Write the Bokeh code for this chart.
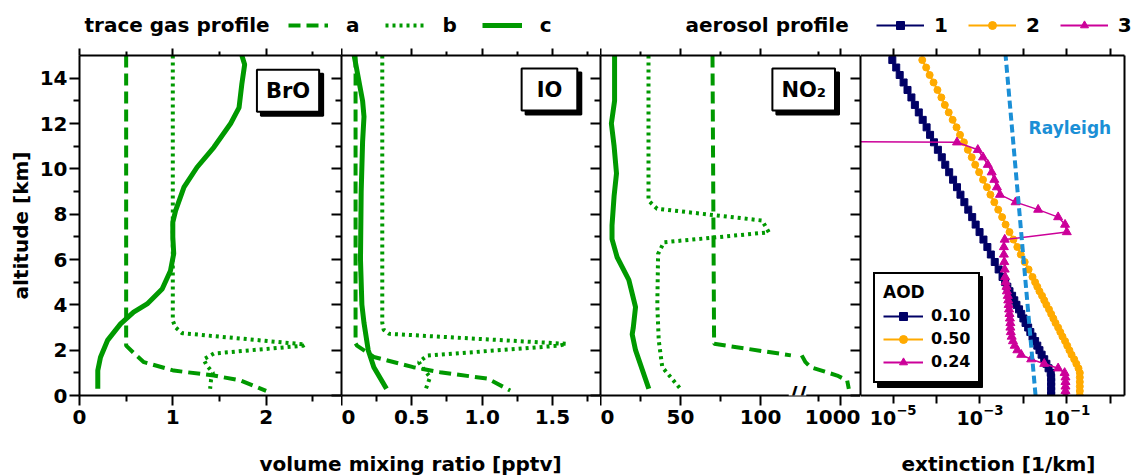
from bokeh.plotting import figure
from bokeh.models import (Range1d, LinearAxis, LogAxis, FixedTicker, CustomJSTickFormatter,
                          Label, Legend, LegendItem, BoxAnnotation)
from bokeh.layouts import row, column
from bokeh.embed import file_html
from bokeh.resources import INLINE
from bokeh.core.properties import value

# ---------------- data ----------------
alt_ticks = [0, 2, 4, 6, 8, 10, 12, 14]
alt_minor = [1, 3, 5, 7, 9, 11, 13]
bro_ticks = [0, 1, 2]
bro_minor = [0.5, 1.5, 2.5]
io_ticks = [0, 0.5, 1.0, 1.5]
io_minor = [0.25, 0.75, 1.25, 1.75]
no2_ticks = [0, 50, 100]
no2_minor = [25, 75]
no2_hi_tick = 1000
no2_hi_minor = 500
ext_ticks = [1e-5, 1e-3, 1e-1]
ext_minor = [1e-4, 1e-2, 1.0]

# BrO (pptv)
bro_a_alt = [15, 2.2, 1.8, 1.47, 1.1, 0.88, 0.66, 0.2]
bro_a = [0.5, 0.5, 0.6, 0.69, 1.01, 1.44, 1.73, 2.0]
bro_b_alt = [15, 3.3, 3.0, 2.75, 2.25, 2.2, 1.85, 1.6, 1.35, 1.0, 0.7, 0.3]
bro_b = [1.0, 1.0, 1.03, 1.1, 2.42, 2.4, 1.44, 1.33, 1.36, 1.43, 1.41, 1.40]
bro_c_alt = [15, 14.6, 13.75, 12.7, 12.0, 10.95, 10.07, 9.19, 8.16, 7.65, 7.0, 6.26, 5.5,
             4.7, 4.04, 3.68, 3.16, 2.43, 1.69, 1.1, 0.3]
bro_c = [1.74, 1.77, 1.74, 1.71, 1.62, 1.44, 1.26, 1.12, 1.03, 1.0, 1.0, 1.01, 0.975,
         0.886, 0.725, 0.58, 0.44, 0.30, 0.225, 0.196, 0.196]

# IO (pptv)
io_a_alt = [15, 2.3, 2.2, 1.7, 1.25, 1.03, 0.74, 0.22]
io_a = [0.1, 0.1, 0.11, 0.23, 0.51, 0.70, 1.04, 1.2]
io_b_alt = [15, 3.2, 2.9, 2.72, 2.28, 2.2, 1.76, 1.47, 1.2, 0.81, 0.29]
io_b = [0.29, 0.29, 0.30, 0.34, 1.6, 1.55, 0.61, 0.55, 0.58, 0.63, 0.6]
io_c_alt = [15, 14, 13, 12.3, 11.2, 9, 6, 4, 3.2, 2.0, 1.25, 0.3]
io_c = [0.09, 0.12, 0.15, 0.16, 0.15, 0.14, 0.135, 0.145, 0.16, 0.19, 0.23, 0.32]

# NO2 (pptv)
no2_a_alt = [15, 2.28, 1.77, 1.47, 1.25, 0.88, 0.66, 0.29]
no2_a = [70, 71, 119, 205, 318, 925, 1152, 1189]
no2_b_alt = [15, 8.6, 8.24, 7.72, 7.2, 6.76, 6.25, 4.0, 2.43, 1.25, 0.29]
no2_b = [30, 30, 35.4, 101, 105.2, 39.6, 36, 35.5, 36.4, 38.6, 50]
no2_c_alt = [15, 13, 12, 11, 9.8, 8.8, 7.5, 6.9, 6.1, 5.1, 3.9, 3.0, 2.7, 2.0, 0.3]
no2_c = [8.8, 8.8, 6.8, 8.5, 10, 8.5, 7.2, 7.2, 10.4, 17.7, 21.9, 20.5, 19.8, 21.9, 30.2]

# aerosol extinction (log10 of 1/km)
aer_alt = [14.8, 14.47, 14.14, 13.81, 13.48, 13.15, 12.82, 12.49, 12.16, 11.83, 11.5, 11.17,
           10.84, 10.51, 10.18, 9.85, 9.52, 9.19, 8.86, 8.53, 8.2, 7.87, 7.54, 7.21, 6.88,
           6.55, 6.22, 5.89, 5.56, 5.23, 5.0, 4.8, 4.6, 4.4, 4.2, 4.0, 3.8, 3.6, 3.4, 3.2,
           3.0, 2.8, 2.6, 2.4, 2.2, 2.0, 1.8, 1.6, 1.4, 1.2, 1.0, 0.8, 0.6, 0.4, 0.2, 0.0]
ext1_log = [-5.02, -4.93, -4.85, -4.76, -4.67, -4.58, -4.50, -4.41, -4.32, -4.23, -4.15, -4.06,
            -3.97, -3.88, -3.80, -3.71, -3.62, -3.53, -3.45, -3.36, -3.27, -3.18, -3.10, -3.01,
            -2.92, -2.83, -2.75, -2.66, -2.57, -2.48, -2.42, -2.37, -2.32, -2.26, -2.21, -2.16,
            -2.10, -2.05, -2.00, -1.95, -1.89, -1.84, -1.79, -1.73, -1.68, -1.63, -1.58, -1.52,
            -1.47, -1.42, -1.37, -1.36, -1.36, -1.36, -1.36, -1.36]
ext2_log = [-4.33, -4.24, -4.16, -4.07, -3.98, -3.89, -3.81, -3.72, -3.63, -3.54, -3.46, -3.37,
            -3.28, -3.19, -3.11, -3.02, -2.93, -2.84, -2.76, -2.67, -2.58, -2.49, -2.41, -2.32,
            -2.23, -2.14, -2.06, -1.97, -1.88, -1.79, -1.73, -1.68, -1.63, -1.57, -1.52, -1.47,
            -1.41, -1.36, -1.31, -1.26, -1.20, -1.15, -1.10, -1.04, -0.99, -0.94, -0.89, -0.83,
            -0.78, -0.73, -0.70, -0.70, -0.70, -0.70, -0.70, -0.70]
ext3_log = [-30, -30, -30, -30, -30, -30, -30, -30, -30, -30, -30, -3.53,
            -3.05, -2.93, -2.82, -2.73, -2.67, -2.61, -2.54, -2.18, -1.66, -1.20, -1.04, -1.00,
            -2.43, -2.45, -2.45, -2.44, -2.43, -2.42, -2.41, -2.39, -2.38, -2.36, -2.35, -2.34,
            -2.33, -2.32, -2.31, -2.30, -2.30, -2.29, -2.27, -2.24, -2.20, -2.14, -2.05, -1.82,
            -1.52, -1.20, -1.05, -1.03, -1.03, -1.03, -1.03, -1.03]
ray_alt = [0, 15]
ray_log = [-1.72, -2.41]
aod_labels = ["0.10", "0.50", "0.24"]

# ---------------- style ----------------
FONT = "DejaVu Sans"
GREEN = "#009900"
NAVY = "#000066"
ORANGE = "#ffaa00"
MAGENTA = "#cc0099"
BLUE = "#1b8fd6"
DASH_A = "12 6"
DOT_B = "3 4"
NAN = [float("nan")]

FRAME_H = 340
TOP_B, BOT_B = 10, 52
TOP_H = 45
BOT_H = 476 - TOP_H - TOP_B - FRAME_H - BOT_B


def make_fig(xr, fw, left, right, x_axis_type="linear"):
    p = figure(frame_width=fw, frame_height=FRAME_H, x_range=xr, y_range=Range1d(0, 15),
               x_axis_type=x_axis_type, x_axis_location=None, y_axis_location=None,
               toolbar_location=None, output_backend="svg",
               min_border_left=left, min_border_right=right,
               min_border_top=TOP_B, min_border_bottom=BOT_B)
    p.outline_line_color = None
    p.xgrid.visible = False
    p.ygrid.visible = False
    p.background_fill_color = "white"
    p.border_fill_color = "white"
    return p


def style_axis(ax, out=0, mout=0, tin=0, min_=0, labels=False, size="20px", standoff=3):
    ax.axis_line_width = 2
    ax.axis_line_color = "black"
    ax.major_tick_line_width = 2
    ax.minor_tick_line_width = 2
    ax.major_tick_line_color = "black"
    ax.minor_tick_line_color = "black"
    ax.major_tick_out = out
    ax.major_tick_in = tin
    ax.minor_tick_out = mout
    ax.minor_tick_in = min_
    if labels:
        ax.major_label_text_font = FONT
        ax.major_label_text_font_style = "bold"
        ax.major_label_text_font_size = size
        ax.major_label_text_color = "black"
        ax.major_label_standoff = standoff
    else:
        ax.major_label_text_font_size = "1px"
        ax.major_label_text_color = None
        ax.major_label_standoff = 0
    return ax


def line_only(p, side):
    ax = LinearAxis(ticker=FixedTicker(ticks=[]))
    style_axis(ax)
    ax.major_tick_line_color = None
    ax.minor_tick_line_color = None
    p.add_layout(ax, side)


def y_ticks_in(p):
    ax = LinearAxis(ticker=FixedTicker(ticks=alt_ticks, minor_ticks=alt_minor))
    style_axis(ax, tin=10, min_=6)
    p.add_layout(ax, "right")


def x_axes(p, ticks, minor, fmt_code, log=False):
    top = LinearAxis(ticker=FixedTicker(ticks=ticks, minor_ticks=minor))
    style_axis(top, out=7, mout=7 if log else 4)
    p.add_layout(top, "above")
    kw = {}
    if fmt_code is not None:
        kw["formatter"] = CustomJSTickFormatter(code=fmt_code)
    bcls = LogAxis if log else LinearAxis
    bot = bcls(ticker=FixedTicker(ticks=ticks, minor_ticks=minor), **kw)
    style_axis(bot, out=8 if log else 10, mout=8 if log else 6, labels=True,
               size="19px" if log else "20px", standoff=0 if log else 4)
    p.add_layout(bot, "below")


def panel_label(p, x, y, text, pad=9):
    common = dict(x=x, y=y, text=text, text_align="center", text_baseline="middle",
                  text_font=FONT, text_font_style="bold", text_font_size="21px", padding=pad,
                  border_line_width=2, border_line_color="black")
    p.add_layout(Label(x_offset=4, y_offset=-4, text_color="black",
                       background_fill_color="black", **common))
    p.add_layout(Label(text_color="black", background_fill_color="white", **common))


def gas_lines(p, a, b, c, **kw):
    p.line(a[0], a[1], line_color=GREEN, line_width=4, line_dash=DASH_A, **kw)
    p.line(b[0], b[1], line_color=GREEN, line_width=4, line_dash=DOT_B, **kw)
    p.line(c[0], c[1], line_color=GREEN, line_width=5, **kw)


def strip_label(p, x, y, text, align="left"):
    p.add_layout(Label(x=x, y=y, text=text, text_align=align, text_baseline="middle",
                       text_font=FONT, text_font_style="bold", text_font_size="20px",
                       text_color="black"))


# ---------------- BrO ----------------
f1 = make_fig(Range1d(0, 2.808), 262, 79, 0)
yl = LinearAxis(ticker=FixedTicker(ticks=alt_ticks, minor_ticks=alt_minor))
style_axis(yl, out=10, mout=6, labels=True, standoff=2)
yl.axis_label = "altitude [km]"
yl.axis_label_text_font = FONT
yl.axis_label_text_font_style = "bold"
yl.axis_label_text_font_size = "20px"
yl.axis_label_text_color = "black"
yl.axis_label_standoff = 4
f1.add_layout(yl, "left")
y_ticks_in(f1)
x_axes(f1, bro_ticks, bro_minor, "return tick.toFixed(0);")
gas_lines(f1, (bro_a, bro_a_alt), (bro_b, bro_b_alt), (bro_c, bro_c_alt))
panel_label(f1, 2.235, 13.45, "BrO")

# ---------------- IO ----------------
f2 = make_fig(Range1d(0, 1.842), 259, 0, 0)
line_only(f2, "left")
y_ticks_in(f2)
x_axes(f2, io_ticks, io_minor, "return tick == 0 ? '0' : tick.toFixed(1);")
gas_lines(f2, (io_a, io_a_alt), (io_b, io_b_alt), (io_c, io_c_alt))
panel_label(f2, 1.479, 13.5, "IO", pad=(15, 9))

# ---------------- NO2 (broken axis) ----------------
lo_end = 162.5
hi_start, hi_end = -4454.5, 1454.5
f3 = make_fig(Range1d(0, lo_end), 260, 0, 0)
f3.extra_x_ranges = {"hi": Range1d(hi_start, hi_end)}


def hi2lo(h):
    return lo_end * (h - hi_start) / (hi_end - hi_start)


pos1000 = round(hi2lo(no2_hi_tick), 3)
line_only(f3, "left")
y_ticks_in(f3)
x_axes(f3, no2_ticks + [pos1000], no2_minor + [round(hi2lo(no2_hi_minor), 3)],
       "return Math.abs(tick - %s) < 0.5 ? '%d' : tick.toFixed(0);" % (pos1000, no2_hi_tick))
brk = 121
k = max(i for i, v in enumerate(no2_a) if v <= brk)
f3.line(no2_a[:k + 1], no2_a_alt[:k + 1], line_color=GREEN, line_width=4, line_dash=DASH_A)
f3.line(no2_a[k:], no2_a_alt[k:], line_color=GREEN, line_width=4, line_dash=DASH_A,
        x_range_name="hi")
f3.line(no2_b, no2_b_alt, line_color=GREEN, line_width=4, line_dash=DOT_B)
f3.line(no2_c, no2_c_alt, line_color=GREEN, line_width=5)
panel_label(f3, 127, 13.5, "NO\u2082")
gap_x = (797 - 600) / 1.6
f3.add_layout(Label(x=gap_x, y=0, text="//", text_align="center", text_baseline="middle",
                    text_font=FONT, text_font_style="bold", text_font_size="24px",
                    background_fill_color="white", text_color="black"))

# ---------------- extinction ----------------
ext_lo, ext_hi = -5.753, 0.3295
f4 = make_fig(Range1d(10 ** ext_lo, 10 ** ext_hi), 264, 0, 11, x_axis_type="log")
line_only(f4, "left")
line_only(f4, "right")
x_axes(f4, ext_ticks, ext_minor, None, log=True)
ext1 = [10 ** v for v in ext1_log]
ext2 = [10 ** v for v in ext2_log]
ext3 = [10 ** v for v in ext3_log]
ray = [10 ** v for v in ray_log]
f4.line(ext1, aer_alt, line_color=NAVY, line_width=2)
f4.scatter(ext1, aer_alt, marker="square", size=7, color=NAVY)
f4.line(ext2, aer_alt, line_color=ORANGE, line_width=2)
f4.scatter(ext2, aer_alt, marker="circle", size=7, color=ORANGE)
f4.line(ext3, aer_alt, line_color=MAGENTA, line_width=1.5)
f4.scatter(ext3, aer_alt, marker="triangle", size=9, color=MAGENTA)
f4.line(ray, ray_alt, line_color=BLUE, line_width=4, line_dash="8 4")
f4.add_layout(Label(x=10 ** -1.88, y=11.8, text="Rayleigh", text_baseline="middle",
                    text_font=FONT, text_font_style="bold", text_font_size="17px",
                    text_color=BLUE))

# AOD legend, with a drop shadow box behind it (positions in frame pixels)
dec_per_px = (ext_hi - ext_lo) / 264
km_per_px = 15 / FRAME_H
sh_l, sh_r, sh_b, sh_t = 17, 122, 8, 119
f4.add_layout(BoxAnnotation(left=10 ** (ext_lo + sh_l * dec_per_px),
                            right=10 ** (ext_lo + sh_r * dec_per_px),
                            bottom=sh_b * km_per_px, top=sh_t * km_per_px,
                            fill_color="black", fill_alpha=1, line_color="black",
                            line_alpha=1, level="annotation"))
aod_items = []
for lab, col, mk, sz in zip(aod_labels, [NAVY, ORANGE, MAGENTA],
                            ["square", "circle", "triangle"], [12, 13, 14]):
    rl = f4.line(NAN, NAN, line_color=col, line_width=2)
    rs = f4.scatter(NAN, NAN, marker=mk, size=sz, color=col)
    aod_items.append(LegendItem(label=value(lab), renderers=[rl, rs]))
aod = Legend(items=aod_items, location=(13, 12), title="AOD", background_fill_color="white",
             title_text_color="black", label_text_color="black",
             title_text_font=FONT, title_text_font_style="bold", title_text_font_size="17px",
             title_standoff=2, label_text_font=FONT, label_text_font_style="bold",
             label_text_font_size="16px", glyph_width=40, glyph_height=20, label_height=23,
             label_standoff=8, spacing=0, padding=8, margin=0, border_line_color="black",
             border_line_width=2, border_line_alpha=1, background_fill_alpha=1)
f4.add_layout(aod)

# ---------------- top strip (legends) ----------------
top = figure(width=1135, height=TOP_H, x_range=Range1d(0, 1135), y_range=Range1d(0, TOP_H),
             toolbar_location=None, output_backend="svg", min_border=0,
             x_axis_location=None, y_axis_location=None)
top.outline_line_color = None
top.xgrid.visible = False
top.ygrid.visible = False
strip_label(top, 84, 21, "trace gas profile")
strip_label(top, 685, 21, "aerosol profile")
ga = top.line(NAN, NAN, line_color=GREEN, line_width=4, line_dash=DASH_A)
gb = top.line(NAN, NAN, line_color=GREEN, line_width=4, line_dash=DOT_B)
gc = top.line(NAN, NAN, line_color=GREEN, line_width=5)
leg_common = dict(orientation="horizontal", label_text_font=FONT, label_text_font_style="bold",
                  label_text_color="black",
                  label_text_font_size="20px", glyph_height=20, label_height=20, label_width=10,
                  padding=0, margin=0, border_line_color=None, background_fill_alpha=0)
gas_leg = Legend(items=[LegendItem(label=value("a"), renderers=[ga]),
                        LegendItem(label=value("b"), renderers=[gb]),
                        LegendItem(label=value("c"), renderers=[gc])],
                 location=(288, 8), glyph_width=40, label_standoff=18, spacing=25, **leg_common)
top.add_layout(gas_leg)
aer_items = []
for lab, col, mk, sz in zip(["1", "2", "3"], [NAVY, ORANGE, MAGENTA],
                            ["square", "circle", "triangle"], [14, 15, 16]):
    rl = top.line(NAN, NAN, line_color=col, line_width=2)
    rs = top.scatter(NAN, NAN, marker=mk, size=sz, color=col)
    aer_items.append(LegendItem(label=value(lab), renderers=[rl, rs]))
aer_leg = Legend(items=aer_items, location=(876, 8), glyph_width=48, label_standoff=10,
                 spacing=20, **leg_common)
top.add_layout(aer_leg)

# ---------------- bottom strip (axis titles) ----------------
bot = figure(width=1135, height=BOT_H, x_range=Range1d(0, 1135), y_range=Range1d(0, BOT_H),
             toolbar_location=None, output_backend="svg", min_border=0,
             x_axis_location=None, y_axis_location=None)
bot.outline_line_color = None
bot.xgrid.visible = False
bot.ygrid.visible = False
strip_label(bot, 410, 13, "volume mixing ratio [pptv]", align="center")
strip_label(bot, 998, 13, "extinction [1/km]", align="center")

layout = column(top, row(f1, f2, f3, f4, spacing=0), bot, spacing=0)
open("out.html", "w").write(file_html(layout, INLINE))
